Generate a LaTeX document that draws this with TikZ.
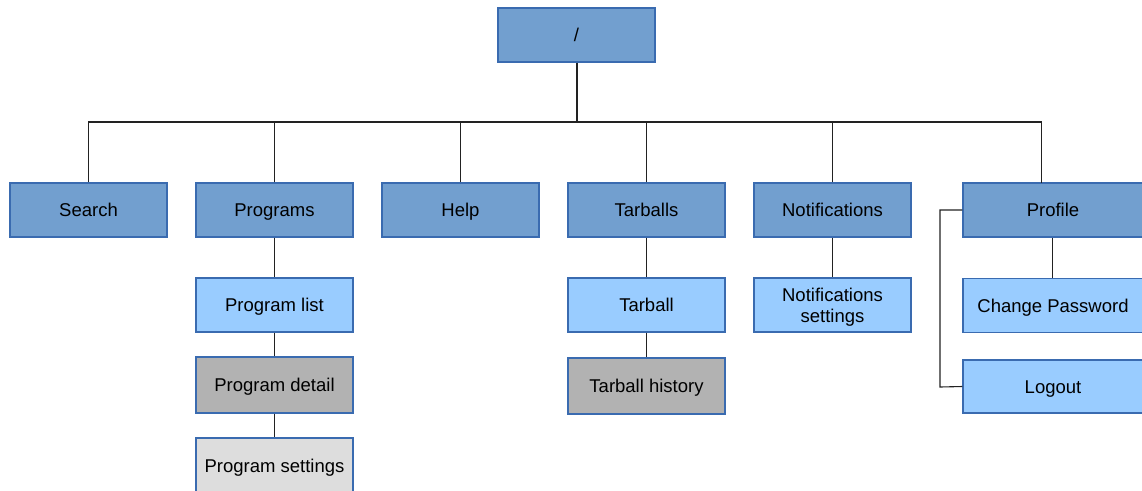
\documentclass[tikz,border=0pt]{standalone}
\usepackage{fontspec}
\setmainfont{Liberation Sans}
\definecolor{topfill}{HTML}{729FCF}
\definecolor{boxline}{HTML}{3A6BB0}
\definecolor{subfill}{HTML}{99CCFF}
\definecolor{greyfill}{HTML}{B2B2B2}
\definecolor{palefill}{HTML}{DDDDDD}
\definecolor{wire}{HTML}{222222}
\begin{document}
\begin{tikzpicture}[x=1pt,y=-1pt,
  box/.style={draw=boxline,line width=1.1pt,minimum height=54pt,minimum width=157pt,
    inner sep=0pt,align=center,font=\fontsize{18.5}{21}\selectfont,text=black,
    text height=17.5pt,text depth=4pt},
  topbox/.style={box,fill=topfill},
  subbox/.style={box,fill=subfill},
  greybox/.style={box,fill=greyfill},
  palebox/.style={box,fill=palefill},
  wirel/.style={draw=wire,line width=1.1pt}]
\useasboundingbox (0,0) rectangle (1142,490);
\begin{scope}
\clip (0,0) rectangle (1142,490);
% root
\node[topbox] (root) at (576.5,35) {/};
% first level
\node[topbox] (search) at (88.5,210) {Search};
\node[topbox] (programs) at (274.5,210) {Programs};
\node[topbox] (help) at (460.5,210) {Help};
\node[topbox] (tarballs) at (646.5,210) {Tarballs};
\node[topbox] (notif) at (832.5,210) {Notifications};
\node[topbox,minimum width=180pt] (profile) at (1053,210) {Profile};
% second level
\node[subbox] (proglist) at (274.5,305) {Program list};
\node[greybox,minimum height=56pt] (progdetail) at (274.5,385) {Program detail};
\node[palebox,minimum height=56pt] (progset) at (274.5,466) {Program settings};
\node[subbox] (tarball) at (646.5,305) {Tarball};
\node[greybox,minimum height=56pt] (tarhist) at (646.5,386) {Tarball history};
\node[subbox,text height=38pt,text depth=4pt] (notifset) at (832.5,305) {Notifications\\settings};
\node[subbox,minimum width=180pt] (chpw) at (1053,305.5) {Change Password};
\node[subbox,minimum width=180pt,minimum height=53pt] (logout) at (1053,386.5) {Logout};
% tree connectors
\coordinate (bus) at (576.5,122);
\draw[wirel,line width=2pt] (root.south) -- (bus);
\draw[wirel] (search.north) -- (88.5,122) -- (1041.5,122) -- (1041.5,183);
\foreach \n in {programs,help,tarballs,notif}
  \draw[wirel] (\n.north) -- (\n.north |- bus);
\draw[wirel] (programs.south) -- (proglist.north);
\draw[wirel] (proglist.south) -- (progdetail.north);
\draw[wirel] (progdetail.south) -- (progset.north);
\draw[wirel] (tarballs.south) -- (tarball.north);
\draw[wirel] (tarball.south) -- (tarhist.north);
\draw[wirel] (notif.south) -- (notifset.north);
\draw[wirel] ([xshift=-0.5pt]profile.south) -- ([xshift=-0.5pt]chpw.north);
\draw[wirel] (profile.west) -- (940,210) -- (940,387) -- (logout.west);
\end{scope}
\end{tikzpicture}
\end{document}
